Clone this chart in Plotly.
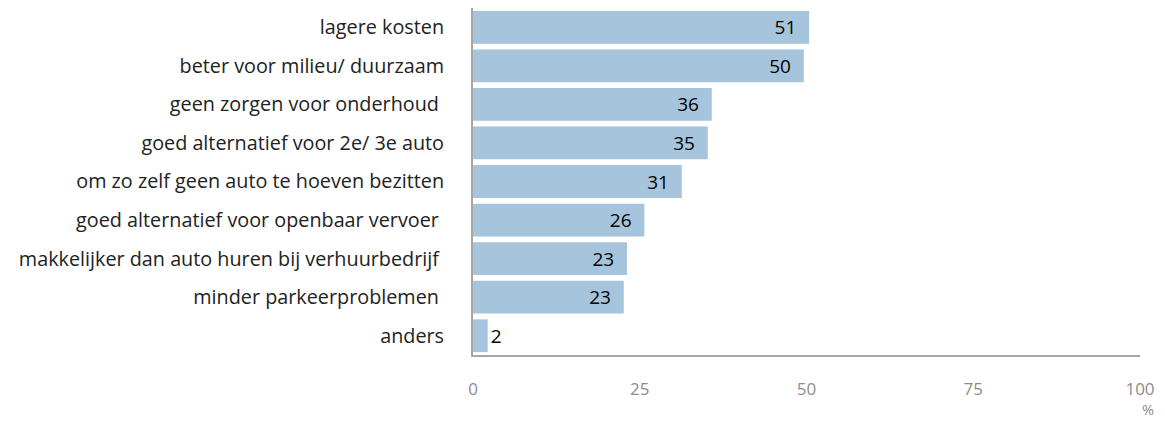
import plotly.graph_objects as go

categories = [
    "lagere kosten",
    "beter voor milieu/ duurzaam",
    "geen zorgen voor onderhoud\u00a0",
    "goed alternatief voor 2e/ 3e auto",
    "om zo zelf geen auto te hoeven bezitten",
    "goed alternatief voor openbaar vervoer\u00a0",
    "makkelijker dan auto huren bij verhuurbedrijf\u00a0",
    "minder parkeerproblemen\u00a0",
    "anders",
]
values = [50.4, 49.6, 35.8, 35.2, 31.3, 25.7, 23.1, 22.6, 2.2]
labels = [51, 50, 36, 35, 31, 26, 23, 23, 2]
tick_vals = [0, 25, 50, 75, 100]
tick_text = ["0", "25", "50", "75", "100"]

text = [f"{l}\u00a0\u00a0" if l > 5 else f"{l}" for l in labels]
positions = ["inside" if l > 5 else "outside" for l in labels]

FONT = "Open Sans"

fig = go.Figure(go.Bar(
    y=categories,
    x=values,
    orientation="h",
    marker=dict(color="#a6c4dc", line=dict(width=0)),
    text=text,
    textposition=positions,
    insidetextanchor="end",
    textfont=dict(family=FONT, size=19, color="#000000"),
    cliponaxis=False,
    hoverinfo="skip",
))

fig.update_layout(
    width=1157, height=413,
    margin=dict(l=465, r=25, t=0, b=66),
    plot_bgcolor="white", paper_bgcolor="white",
    bargap=0.15,
    showlegend=False,
    font=dict(family=FONT, size=19, color="#222222"),
)
fig.update_yaxes(
    autorange="reversed",
    showline=True, linecolor="#a6a6a6", linewidth=2,
    showgrid=False, zeroline=False,
    ticks="", ticklabelstandoff=23,
    tickfont=dict(family=FONT, size=19.8, color="#222222"),
)
fig.update_xaxes(
    range=[0, 100],
    tickvals=tick_vals, ticktext=tick_text,
    showline=True, linecolor="#a6a6a6", linewidth=2,
    showgrid=False, zeroline=False,
    ticks="", ticklabelstandoff=18,
    tickfont=dict(family=FONT, size=17, color="#8c8c8c"),
)
fig.add_annotation(
    text="%", xref="paper", yref="paper", x=1.012, y=-0.19,
    xanchor="center", yanchor="bottom", showarrow=False,
    font=dict(family=FONT, size=14.5, color="#8c8c8c"),
)

fig.write_html("out.html")
